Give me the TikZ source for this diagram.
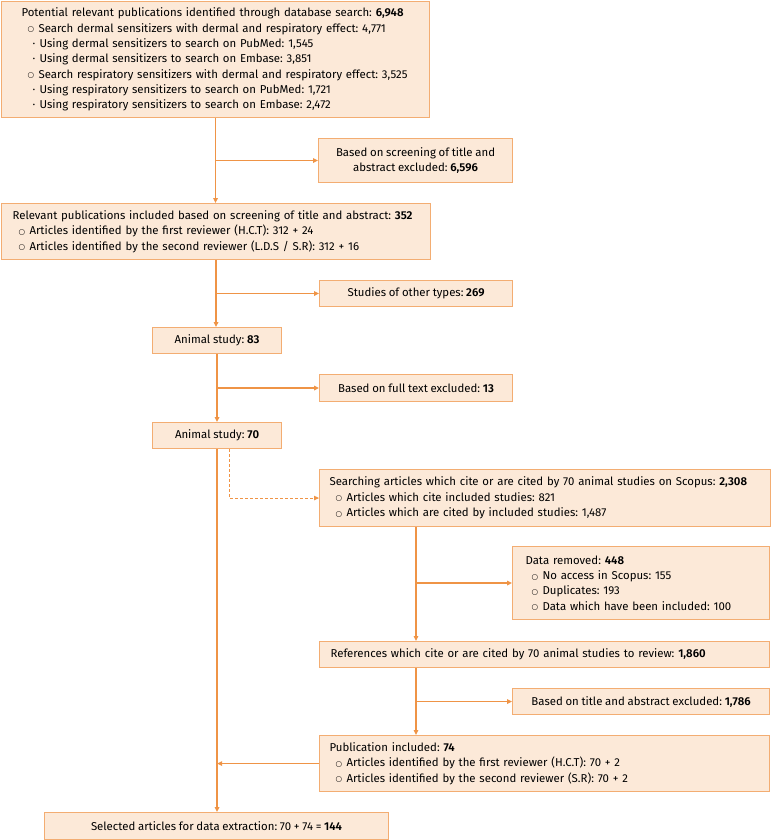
\documentclass[tikz,border=0pt]{standalone}
\usepackage{fontspec}
\setmainfont{Fira Sans}[WordSpace=0.9, BoldFont={Fira Sans SemiBold}]
\newfontfamily\ringfont{DejaVu Sans}
\usepackage{xcolor}
\usepackage{tikz}
\usetikzlibrary{arrows.meta}
\definecolor{flowfill}{HTML}{FCE9D8}
\definecolor{flowedge}{HTML}{F3AD72}
\definecolor{flowlink}{HTML}{EF9446}
\newcommand{\flowfont}{\fontsize{11.4}{15.3}\selectfont\frenchspacing}
\newcommand{\ringitem}{\hspace*{6pt}\makebox[11pt][l]{\raisebox{0.4pt}{\ringfont\fontsize{7.5}{8}\selectfont ○}}}
\newcommand{\dotitem}{\hspace*{11pt}\makebox[7pt][l]{\textperiodcentered}}

\begin{document}
\begin{tikzpicture}[x=1pt, y=-1pt,
  box/.style={draw=flowedge, fill=flowfill, line width=1.1pt, anchor=north west, inner ysep=0pt, font=\flowfont},
  lbox/.style={box, align=left, inner xsep=11pt},
  cbox/.style={box, align=center, inner xsep=0pt},
  link/.style={draw=flowlink, line width=1.3pt, -{Triangle[length=5pt,width=4.5pt]}}
]
  \useasboundingbox (0,0) rectangle (771,840);

  \node[lbox, inner xsep=10pt, text width=408pt, minimum height=116pt] (src) at (1,1) {\leftskip=10pt Potential relevant publications identified through database search: \textbf{6,948}\\
    \ringitem Search dermal sensitizers with dermal and respiratory effect: 4,771\\
    \dotitem Using dermal sensitizers to search on PubMed: 1,545\\
    \dotitem Using dermal sensitizers to search on Embase: 3,851\\
    \ringitem Search respiratory sensitizers with dermal and respiratory effect: 3,525\\
    \dotitem Using respiratory sensitizers to search on PubMed: 1,721\\
    \dotitem Using respiratory sensitizers to search on Embase: 2,472\par};
  \node[cbox, minimum width=194pt, minimum height=44pt] (screen) at (318,138) {Based on screening of title and\\abstract excluded: \textbf{6,596}};
  \node[lbox, text width=407pt, minimum height=56pt] (incl) at (1,203) {Relevant publications included based on screening of title and abstract: \textbf{352}\\
    \ringitem Articles identified by the first reviewer (H.C.T): 312 + 24\\
    \ringitem Articles identified by the second reviewer (L.D.S / S.R): 312 + 16};
  \node[cbox, minimum width=193pt, minimum height=26pt] (other) at (319,280) {Studies of other types: \textbf{269}};
  \node[cbox, minimum width=129pt, minimum height=26pt] (an83) at (152,327) {Animal study: \textbf{83}};
  \node[cbox, minimum width=193pt, minimum height=27pt] (fulltext) at (319,374) {Based on full text excluded: \textbf{13}};
  \node[cbox, minimum width=129pt, minimum height=26pt] (an70) at (152,422) {Animal study: \textbf{70}};
  \node[lbox, inner xsep=10pt, text width=431pt, minimum height=57pt] (search) at (319,469) {Searching articles which cite or are cited by 70 animal studies on Scopus: \textbf{2,308}\\
    \ringitem Articles which cite included studies: 821\\
    \ringitem Articles which are cited by included studies: 1,487};
  \node[lbox, inner xsep=13pt, text width=231pt, minimum height=73pt] (removed) at (512,546) {Data removed: \textbf{448}\\
    \ringitem No access in Scopus: 155\\
    \ringitem Duplicates: 193\\
    \ringitem Data which have been included: 100};
  \node[lbox, text width=428pt, minimum height=26pt] (refs) at (319,641) {References which cite or are cited by 70 animal studies to review: \textbf{1,860}};
  \node[cbox, minimum width=257pt, minimum height=26pt] (screen2) at (512,688) {Based on title and abstract excluded: \textbf{1,786}};
  \node[lbox, inner xsep=10pt, text width=430pt, minimum height=56pt] (pub) at (319,735) {Publication included: \textbf{74}\\
    \ringitem Articles identified by the first reviewer (H.C.T): 70 + 2\\
    \ringitem Articles identified by the second reviewer (S.R): 70 + 2};
  \node[cbox, minimum width=344pt, minimum height=27pt] (final) at (44,812) {Selected articles for data extraction: 70 + 74 = \textbf{144}};

  \draw[link] (src.south) -- (src.south |- incl.north);
  \draw[link] (src.south |- screen.west) -- (screen.west);
  \draw[link] (incl.south) -- (incl.south |- an83.north);
  \draw[link] (incl.south |- other.west) -- (other.west);
  \draw[link] (an83.south) -- (an70.north);
  \draw[link] (an83.south |- fulltext.west) -- (fulltext.west);
  \draw[link] (an70.south) -- (an70.south |- final.north);
  \draw[link, dash pattern=on 3pt off 2pt, line width=1pt] ([xshift=12pt]an70.south) |- (search.west);
  \draw[link] ([xshift=97pt]search.south west) -- ([xshift=97pt]refs.north west);
  \draw[link] ([xshift=97pt]search.south west |- removed.west) -- (removed.west);
  \draw[link] ([xshift=97pt]refs.south west) -- ([xshift=97pt]pub.north west);
  \draw[link] ([xshift=97pt]refs.south west |- screen2.west) -- (screen2.west);
  \draw[link] (pub.west) -- (pub.west -| an70.south);
\end{tikzpicture}
\end{document}
